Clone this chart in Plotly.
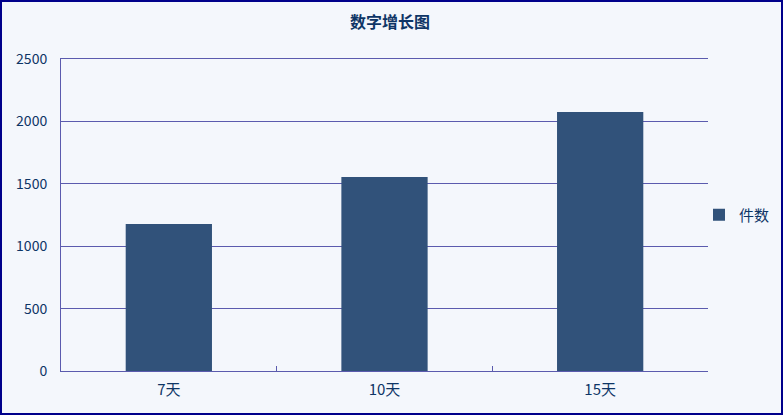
import plotly.graph_objects as go

# data
categories = ["7天", "10天", "15天"]
counts = [1178, 1555, 2075]
series_name = "件数"
y_ticks = [0, 500, 1000, 1500, 2000, 2500]

text_color = "#0E3566"
grid_color = "#5B5BAE"
bg = "#F4F7FC"
font_family = "Noto Sans CJK SC"

fig = go.Figure(
    go.Bar(
        x=categories,
        y=counts,
        name=series_name,
        marker=dict(color="#31527A", line=dict(width=0)),
        width=0.4,
        showlegend=True,
    )
)

# plot area in px: x 61..708, y 59..371
W, H = 783, 415
ml, mr, mt, mb = 61, 75, 59, 44
pw, ph = W - ml - mr, H - mt - mb

fig.update_layout(
    width=W,
    height=H,
    margin=dict(l=ml, r=mr, t=mt, b=mb, pad=0, autoexpand=False),
    paper_bgcolor=bg,
    plot_bgcolor=bg,
    font=dict(family=font_family, size=14, color=text_color),
    title=dict(
        text="<b>数字增长图</b>",
        x=0.498,
        xanchor="center",
        xref="container",
        y=1 - 22 / H,
        yanchor="middle",
        yref="container",
        font=dict(size=16, color=text_color),
    ),
    legend=dict(
        x=(699 - ml) / pw,
        xanchor="left",
        y=0.5,
        yanchor="middle",
        bgcolor="rgba(0,0,0,0)",
        font=dict(size=15, color=text_color),
        itemwidth=30,
    ),
    bargap=0.6,
    xaxis=dict(
        type="category",
        showline=True,
        mirror=True,
        linecolor=grid_color,
        linewidth=1,
        ticks="inside",
        tickson="boundaries",
        ticklen=5,
        tickcolor=grid_color,
        showgrid=False,
        automargin=False,
        ticklabelstandoff=5,
        tickfont=dict(size=15, color=text_color),
    ),
    yaxis=dict(
        range=[0, 2500],
        tickvals=y_ticks,
        showline=True,
        linecolor=grid_color,
        linewidth=1,
        showgrid=True,
        gridcolor=grid_color,
        gridwidth=1,
        zeroline=False,
        ticks="",
        ticklabelstandoff=10,
        automargin=False,
        tickfont=dict(size=14, color=text_color),
    ),
    shapes=[
        dict(
            type="rect",
            xref="paper",
            yref="paper",
            x0=(1 - ml) / pw,
            x1=(W - 1 - ml) / pw,
            y0=(ph + mt - (H - 1)) / ph,
            y1=(ph + mt - 1) / ph,
            line=dict(color="#00008B", width=2),
            fillcolor="rgba(0,0,0,0)",
            layer="above",
        )
    ],
)

# drop the browser's default body margin so the chart sits at 0,0
fig.write_html(
    "out.html",
    config={"displayModeBar": False},
    post_script="document.body.style.margin='0';document.body.style.overflow='hidden';",
)
